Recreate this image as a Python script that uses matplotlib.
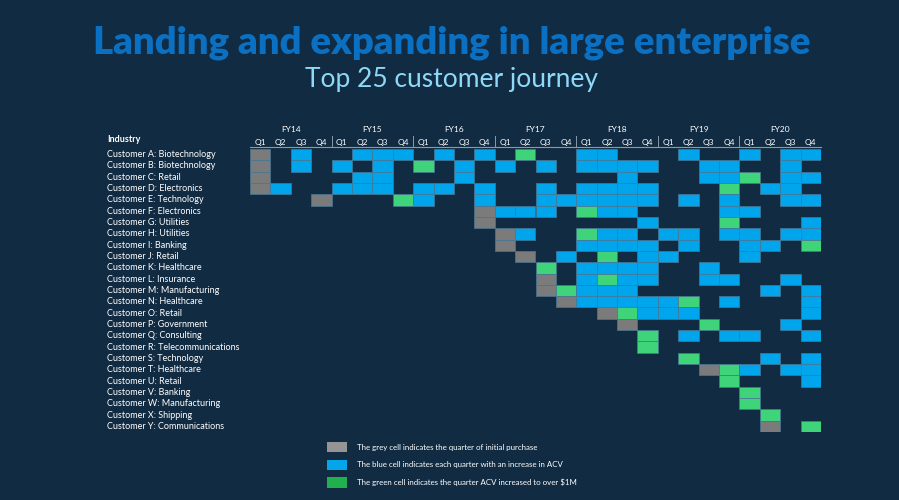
import numpy as np
import matplotlib.pyplot as plt
from matplotlib.patches import Patch
from matplotlib import transforms

plt.rcParams['font.family'] = ['Lato', 'DejaVu Sans']

bg = '#112b42'
grey = '#7b7b7b'
blue = '#00a5ec'
green = '#3fd47a'

fiscal_years = ['FY14', 'FY15', 'FY16', 'FY17', 'FY18', 'FY19', 'FY20']
quarters = ['Q1', 'Q2', 'Q3', 'Q4']

customers = [
    'Customer A: Biotechnology', 'Customer B: Biotechnology', 'Customer C: Retail',
    'Customer D: Electronics', 'Customer E: Technology', 'Customer F: Electronics',
    'Customer G: Utilities', 'Customer H: Utilities', 'Customer I: Banking',
    'Customer J: Retail', 'Customer K: Healthcare', 'Customer L: Insurance',
    'Customer M: Manufacturing', 'Customer N: Healthcare', 'Customer O: Retail',
    'Customer P: Government', 'Customer Q: Consulting', 'Customer R: Telecommunications',
    'Customer S: Technology', 'Customer T: Healthcare', 'Customer U: Retail',
    'Customer V: Banking', 'Customer W: Manufacturing', 'Customer X: Shipping',
    'Customer Y: Communications',
]

# one string per customer, 4 quarters per fiscal year
# x = initial purchase, b = ACV increase, m = ACV over $1M
journey = [
    "x.b. .bbb .b.b .m.. bb.. .b.. b.bb",  # A
    "x.b. b.b. m.b. b.b. bbbb ..bb ..b.",  # B
    "x... .bb. ..b. .... ..b. ..bb m.bb",  # C
    "xb.. bbb. bb.b ..b. bbbb ...m .bb.",  # D
    "...x ...m b..b ..bb bbbb .b.b ..bb",  # E
    ".... .... ...x bbb. mbb. ...b b...",  # F
    ".... .... ...x .... ...b ...m ...b",  # G
    ".... .... .... xb.. mbb. bb.b b.bb",  # H
    ".... .... .... x... bbbb .b.. bb.m",  # I
    ".... .... .... .x.b .m.b b... b...",  # J
    ".... .... .... ..m. bbbb ..b. ....",  # K
    ".... .... .... ..x. bmbb ..bb ..b.",  # L
    ".... .... .... ..xm bbb. .... .b.b",  # M
    ".... .... .... ...x bbbb bm.b ...b",  # N
    ".... .... .... .... .xmb bb.. ...b",  # O
    ".... .... .... .... ..x. ..m. ..b.",  # P
    ".... .... .... .... ...m .b.b b..b",  # Q
    ".... .... .... .... ...m .... ....",  # R
    ".... .... .... .... .... .m.. .b.b",  # S
    ".... .... .... .... .... ..xm b.bb",  # T
    ".... .... .... .... .... ...m ...b",  # U
    ".... .... .... .... .... .... m...",  # V
    ".... .... .... .... .... .... m...",  # W
    ".... .... .... .... .... .... .m..",  # X
    ".... .... .... .... .... .... .x.m",  # Y
]
cell_colors = {'x': grey, 'b': blue, 'm': green}

legend_labels = [
    'The grey cell indicates the quarter of initial purchase',
    'The blue cell indicates each quarter with an increase in ACV',
    'The green cell indicates the quarter ACV increased to over $1M',
]

rows = [row.replace(' ', '') for row in journey]
n_rows, n_cols = len(rows), len(rows[0])

fig = plt.figure(figsize=(8.99, 5), dpi=100, facecolor=bg)
ax = fig.add_axes([250 / 899, 1 - 432 / 500, 571 / 899, 283 / 500])
ax.set_facecolor(bg)

for r, row in enumerate(rows):
    for c, ch in enumerate(row):
        if ch in cell_colors:
            ax.barh(r + 0.5, 1, left=c, height=1, color=cell_colors[ch],
                    edgecolor='#4a7896', linewidth=0.5)

ax.set_xlim(0, n_cols)
ax.set_ylim(n_rows, 0)
ax.axis('off')

# header: fiscal years and quarters
for i, fy in enumerate(fiscal_years):
    ax.text(4 * i + 2, -1.75, fy, ha='center', va='center', fontsize=6, color='white')
    if i > 0:
        ax.plot([4 * i, 4 * i], [-1.15, -0.2], color='#8c9aa8', lw=0.7, clip_on=False)
for j in range(n_cols):
    ax.text(j + 0.5, -0.55, quarters[j % 4], ha='center', va='center', fontsize=6, color='white')
ax.plot([0, n_cols], [-0.2, -0.2], color='#8c9aa8', lw=0.8, clip_on=False)

# customer labels
trans = transforms.blended_transform_factory(fig.transFigure, ax.transData)
ax.text(107 / 899, -0.85, 'Industry', transform=trans, ha='left', va='center',
        fontsize=6.5, fontweight='bold', color='white')
for r, name in enumerate(customers):
    ax.text(107 / 899, r + 0.5, name, transform=trans, ha='left', va='center',
            fontsize=6.5, color='white', clip_on=False)

fig.text(0.5022, 1 - 53 / 500, 'Landing and expanding in large enterprise', ha='center',
         va='baseline', fontsize=27.5, fontweight='heavy', color='#0b70c2')
fig.text(0.5022, 1 - 87 / 500, 'Top 25 customer journey', ha='center', va='baseline',
         fontsize=19, color='#8ed8f8')

handles = [Patch(facecolor=c, edgecolor='none') for c in ['#959595', '#05a5ec', '#22b04f']]
fig.legend(handles, legend_labels, loc='upper left', bbox_to_anchor=(327 / 899, 1 - 442 / 500),
           frameon=False, fontsize=5.7, handlelength=2.5, handleheight=1.65,
           handletextpad=1.25, labelspacing=0.9, borderpad=0, borderaxespad=0,
           labelcolor='white')

fig.savefig('out.png', dpi=100, facecolor=bg)
